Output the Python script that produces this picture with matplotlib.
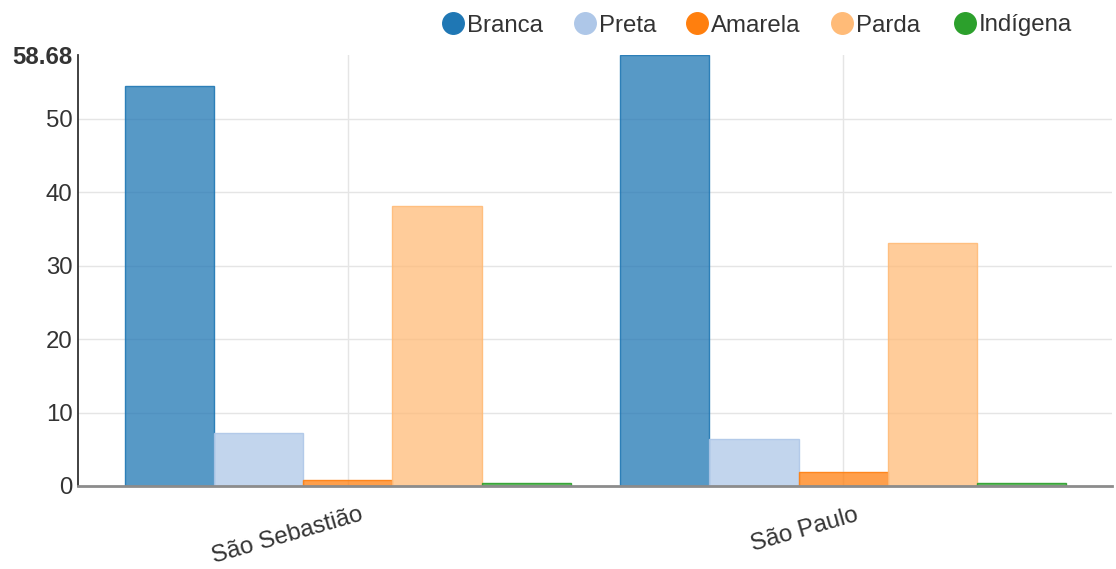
import matplotlib
matplotlib.use("Agg")
import matplotlib.pyplot as plt
from matplotlib.lines import Line2D
from matplotlib.colors import to_rgba
from matplotlib.transforms import ScaledTranslation

categories = ["São Sebastião", "São Paulo"]
series_names = ["Branca", "Preta", "Amarela", "Parda", "Indígena"]
branca = [54.4, 58.68]
preta = [7.2, 6.45]
amarela = [0.75, 1.95]
parda = [38.1, 33.1]
indigena = [0.35, 0.35]
values = [branca, preta, amarela, parda, indigena]
colors = ["#1f77b4", "#aec7e8", "#ff7f0e", "#ffbb78", "#2ca02c"]
y_max = 58.68
y_ticks = [0, 10, 20, 30, 40, 50, 58.68]

# legend layout (pixel x of marker centres)
legend_px = [453, 585, 697, 842, 965]

plt.rcParams['font.family'] = ['Liberation Sans', 'DejaVu Sans']
text_color = "#333333"
FS = 17.3

W, H = 1116, 569
fig = plt.figure(figsize=(W/100, H/100), dpi=100)
ax = fig.add_axes([78/W, 1-486/H, (1112-78)/W, (486-55)/H])

bar_w = 0.18
n = len(series_names)
xs = list(range(len(categories)))
for i, (name, vals, c) in enumerate(zip(series_names, values, colors)):
    offs = (i - (n-1)/2) * bar_w
    ax.bar([x + offs for x in xs], vals, width=bar_w,
           facecolor=to_rgba(c, 0.75), edgecolor=to_rgba(c, 0.9),
           linewidth=1, zorder=3)

ax.set_xlim(-0.545, 1.543)
ax.set_ylim(0, y_max)

for t in y_ticks[1:-1]:
    ax.axhline(t, color="#e5e5e5", lw=1, zorder=1)
for x in xs:
    ax.axvline(x, color="#e5e5e5", lw=1, zorder=1)

for s in ["top", "right"]:
    ax.spines[s].set_visible(False)
ax.spines["left"].set_color("#333333")
ax.spines["left"].set_linewidth(1.3)
ax.spines["bottom"].set_color("#8c8c8c")
ax.spines["bottom"].set_linewidth(2)
ax.spines["bottom"].set_zorder(4)

ax.set_yticks(y_ticks)
ax.set_yticklabels([("%g" % t) for t in y_ticks])
ax.tick_params(axis="y", length=0, pad=4, labelsize=FS, labelcolor=text_color)
ax.get_yticklabels()[-1].set_fontweight("bold")

ax.set_xticks(xs)
ax.set_xticklabels(categories, rotation=16, ha="right", rotation_mode="anchor")
ax.tick_params(axis="x", length=0, pad=13, labelsize=FS, labelcolor=text_color)
for lab in ax.get_xticklabels():
    lab.set_transform(lab.get_transform() + ScaledTranslation(0.12, 0, fig.dpi_scale_trans))

# legend
ly = 1 - 23/H
for px, name, c in zip(legend_px, series_names, colors):
    fig.add_artist(Line2D([px/W], [ly], marker="o", linestyle="none", markersize=15.5,
                          markerfacecolor=c, markeredgecolor=c, transform=fig.transFigure))
    fig.text((px + 14)/W, ly, name, ha="left", va="center_baseline", fontsize=FS,
             color=text_color)

fig.savefig("out.png", dpi=100)
